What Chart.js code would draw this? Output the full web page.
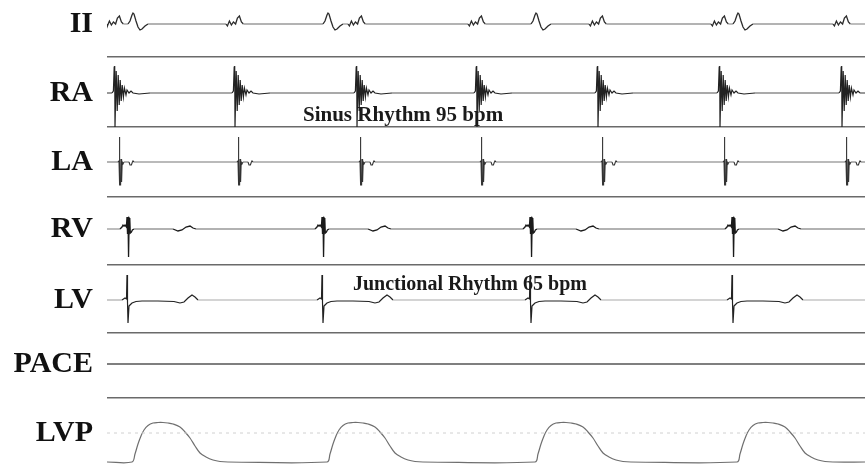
<!DOCTYPE html>
<html>
<head>
<meta charset="utf-8">
<script src="https://cdn.jsdelivr.net/npm/chart.js@4.4.1/dist/chart.umd.min.js"></script>
<style>
  html, body { margin: 0; padding: 0; background: #fff; }
  #wrap { width: 865px; height: 464px; }
</style>
</head>
<body>
<div id="wrap"><canvas id="ecg"></canvas></div>
<script>
// recording window, ms
var tEnd = 3790;

// beat times (ms)
var raBeats = [40, 640, 1250, 1850, 2455, 3065, 3675];
var laBeats = [65, 660, 1270, 1875, 2480, 3090, 3700];
var ventBeats = [105, 1080, 2120, 3130];

// complex shapes: [ms from beat, amplitude]
var iiP = [[-45, 0], [-38, -2], [-28, 3], [-18, -1], [-8, 2], [3, 0], [12, 6], [22, 8], [32, 2], [42, 0], [55, 0]];
var iiQRS = [[0, 0], [10, 3], [20, 9], [25, 11], [30, 10], [40, 3], [50, -3], [60, -6], [70, -5], [85, -2], [100, 0]];
var raShape = [[-15, 0], [-8, 2], [-4, 26], [-1.5, 27], [0, -34], [2.5, -34], [6, 22], [11, -18], [16, 18], [21, -12],
  [26, 13], [31, -8], [36, 8], [42, -4], [47, 5], [55, -2], [60, 3], [70, 0], [80, 2], [90, 0], [120, -1], [175, 0]];
var laShape = [[-10, 0], [-5, 1], [-3, 25], [-1, -23], [3, -23], [5, 3], [8, -20], [11, 0], [15, -2], [20, 0],
  [45, 0], [50, -3], [57, -3], [62, 0], [65, 1], [70, 0]];
var rvShape = [[-40, 0], [-30, 2], [-25, 4], [-20, 3], [-15, 4], [-8, 2], [-5, 12], [-2.5, -5], [0, 12], [1.5, -28],
  [4, -28], [6, 11], [9, 10], [11.5, -4], [17, -3], [22, -1], [30, 0], [225, 0], [250, -2], [270, -1], [290, 2],
  [310, 3], [325, 1], [340, 0]];
var lvShape = [[-30, 0], [-15, 2], [-7.5, 1], [-5, 25], [-2.5, -2], [0, -23], [3, -23], [5, -6], [10, -5], [20, -3],
  [40, -1.5], [70, -1], [150, -1], [230, -1.5], [260, -3], [280, -2], [300, 2], [320, 5], [335, 3], [350, 0]];
var lvpShape = [[20, 2], [35, 10], [50, 20], [65, 28], [80, 34], [100, 38.5], [125, 41], [150, 41.5], [175, 41.5],
  [200, 41], [225, 40], [260, 37], [285, 32], [310, 26], [335, 18], [360, 11], [390, 7], [425, 4], [460, 2.5], [500, 2]];
var lvpRest = 2;
var lvpRefLevel = 31;

function trace(parts, rest) {
  var pts = [{x: 0, y: rest}];
  parts.forEach(function (p) {
    p[0].forEach(function (b) {
      p[1].forEach(function (s) { pts.push({x: b + s[0], y: s[1]}); });
    });
  });
  pts.push({x: tEnd, y: rest});
  pts.sort(function (a, b) { return a.x - b.x; });
  return pts;
}

// lanes from top: [id, label, min, max, label value]
var lanes = [
  ["ii", "II", -33, 24, 0],
  ["ra", "RA", -34, 36, 0],
  ["la", "LA", -35, 35, 0],
  ["rv", "RV", -36, 32, 0],
  ["lv", "LV", -33, 35, 0],
  ["pace", "PACE", -34, 31, 0],
  ["lvp", "LVP", 0, 66, lvpRefLevel]
];

var scales = {x: {type: "linear", min: 0, max: tEnd, display: false}};
lanes.slice().reverse().forEach(function (l) {
  var id = l[0], min = l[2], max = l[3], lab = l[4];
  scales[id] = {
    type: "linear",
    position: "left",
    stack: "strip",
    stackWeight: max - min,
    min: min,
    max: max,
    border: {display: false},
    grid: {
      drawTicks: false,
      color: function (ctx) {
        return (ctx.tick.value === min && id !== "lvp") ? "#6a6a6a" : "rgba(0,0,0,0)";
      },
      lineWidth: 1.6
    },
    ticks: {
      autoSkip: false,
      padding: 14,
      color: "#111",
      font: {family: "'Liberation Serif', 'DejaVu Serif', serif", weight: "bold", size: 30},
      callback: function (v) { return v === lab ? l[1] : ""; }
    },
    afterBuildTicks: function (axis) { axis.ticks = [{value: min}, {value: lab}]; },
    afterFit: function (axis) {
      axis.width = 107;
      axis.paddingTop = 0;
      axis.paddingBottom = 0;
    }
  };
});

function line(data, yId, color, rest, flatColor, width) {
  return {
    data: data,
    yAxisID: yId,
    xAxisID: "x",
    borderColor: color,
    borderWidth: width || 1.2,
    pointRadius: 0,
    tension: 0,
    segment: {
      borderColor: function (ctx) {
        return (ctx.p0.parsed.y === rest && ctx.p1.parsed.y === rest) ? flatColor : undefined;
      }
    }
  };
}

var datasets = [
  line(trace([[raBeats, iiP], [ventBeats, iiQRS]], 0), "ii", "#2b2b2b", 0, "#9a9a9a", 1.3),
  line(trace([[raBeats, raShape]], 0), "ra", "#222", 0, "#555", 1.2),
  line(trace([[laBeats, laShape]], 0), "la", "#333", 0, "#777", 1.1),
  line(trace([[ventBeats, rvShape]], 0), "rv", "#1a1a1a", 0, "#999", 1.3),
  line(trace([[ventBeats, lvShape]], 0), "lv", "#222", 0, "#aaa", 1.2),
  line([{x: 0, y: 0}, {x: tEnd, y: 0}], "pace", "#555", 0, "#555", 1.4),
  {
    data: [{x: 0, y: lvpRefLevel}, {x: tEnd, y: lvpRefLevel}], yAxisID: "lvp", xAxisID: "x",
    borderColor: "#d0d0d0", borderWidth: 1, borderDash: [3, 4], pointRadius: 0
  },
  {
    data: trace([[ventBeats, lvpShape]], lvpRest), yAxisID: "lvp", xAxisID: "x",
    borderColor: "#6f6f6f", borderWidth: 1.2, pointRadius: 0, tension: 0.35
  }
];

var notes = [
  {text: "Sinus Rhythm 95 bpm", t: 980, lane: "ra", v: -28, size: 21},
  {text: "Junctional Rhythm 65 bpm", t: 1230, lane: "lv", v: 10, size: 20}
];

var notePlugin = {
  id: "notes",
  afterDatasetsDraw: function (chart) {
    var ctx = chart.ctx;
    ctx.save();
    ctx.fillStyle = "#1a1a1a";
    ctx.textBaseline = "alphabetic";
    notes.forEach(function (n) {
      ctx.font = "bold " + n.size + "px 'Liberation Serif', 'DejaVu Serif', serif";
      ctx.fillText(n.text, chart.scales.x.getPixelForValue(n.t), chart.scales[n.lane].getPixelForValue(n.v));
    });
    ctx.restore();
  }
};

new Chart("ecg", {
  type: "line",
  data: {datasets: datasets},
  options: {
    responsive: true,
    maintainAspectRatio: false,
    animation: false,
    parsing: false,
    layout: {padding: 0},
    plugins: {legend: {display: false}, tooltip: {enabled: false}},
    scales: scales
  },
  plugins: [notePlugin]
});
</script>
</body>
</html>
